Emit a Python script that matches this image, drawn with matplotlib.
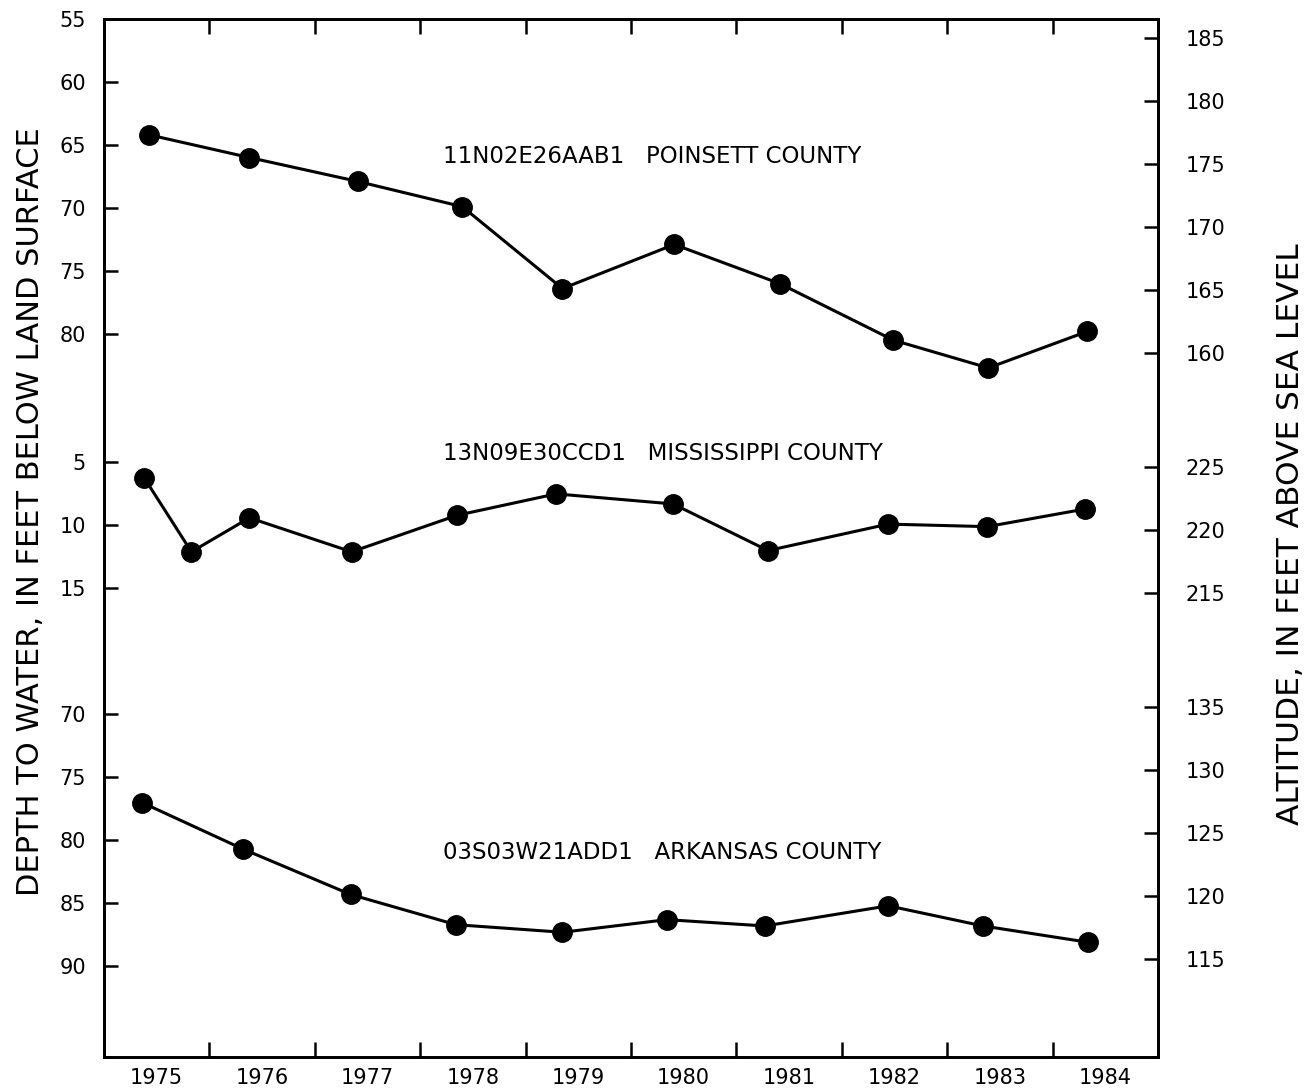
import numpy as np
import matplotlib
matplotlib.use('Agg')
import matplotlib.pyplot as plt
from matplotlib.ticker import FixedLocator, NullFormatter

plt.rcParams['font.family'] = ['DejaVu Sans']

years = [1975, 1976, 1977, 1978, 1979, 1980, 1981, 1982, 1983, 1984]

# 11N02E26AAB1 Poinsett County
poin_t = [1975.43, 1976.38, 1977.41, 1978.40, 1979.35, 1980.41, 1981.41, 1982.49, 1983.39, 1984.33]
poin_d = [64.2, 66.0, 67.9, 69.9, 76.4, 72.9, 76.0, 80.5, 82.7, 79.8]
poin_ticks = [55, 60, 65, 70, 75, 80]
poin_alt = [185, 180, 175, 170, 165, 160]
poin_lsd = 241.5

# 13N09E30CCD1 Mississippi County
miss_t = [1975.38, 1975.83, 1976.38, 1977.35, 1978.35, 1979.29, 1980.40, 1981.30, 1982.44, 1983.38, 1984.31]
miss_d = [6.2, 12.1, 9.4, 12.1, 9.2, 7.5, 8.3, 12.0, 9.9, 10.1, 8.7]
miss_ticks = [5, 10, 15]
miss_alt = [225, 220, 215]
miss_lsd = 230.4

# 03S03W21ADD1 Arkansas County
ark_t = [1975.36, 1976.32, 1977.34, 1978.34, 1979.35, 1980.34, 1981.27, 1982.44, 1983.34, 1984.34]
ark_d = [77.0, 80.7, 84.3, 86.7, 87.3, 86.3, 86.8, 85.2, 86.8, 88.1]
ark_ticks = [70, 75, 80, 85, 90]
ark_alt = [135, 130, 125, 120, 115]
ark_lsd = 204.45

# vertical offsets that stack the three hydrographs in one frame
wells = [
    (poin_t, poin_d, poin_ticks, poin_alt, poin_lsd, -55.0, '11N02E26AAB1   POINSETT COUNTY', 10.9),
    (miss_t, miss_d, miss_ticks, miss_alt, miss_lsd, 30.2, '13N09E30CCD1   MISSISSIPPI COUNTY', 34.5),
    (ark_t, ark_d, ark_ticks, ark_alt, ark_lsd, -14.8, '03S03W21ADD1   ARKANSAS COUNTY', 66.2),
]

fig = plt.figure(figsize=(13.14, 10.91), dpi=100)
ax = fig.add_axes([0.0791, 0.0312, 0.8022, 0.9514])
ax2 = ax.twinx()

lticks, llabels, rticks, rlabels = [], [], [], []
for t, d, tk, alt, lsd, off, name, ty in wells:
    ax.plot(t, np.array(d) + off, color='black', lw=2.2, marker='o', ms=14,
            solid_joinstyle='round')
    lticks += [v + off for v in tk]
    llabels += [str(v) for v in tk]
    rticks += [lsd - a + off for a in alt]
    rlabels += [str(a) for a in alt]
    ax.text(1978.22, ty, name, fontsize=16.5, va='center', ha='left')

ax.set_xlim(1975, 1985)
ax.set_ylim(82.4, 0)
ax2.set_ylim(82.4, 0)

ax.set_yticks(lticks)
ax.set_yticklabels(llabels)
ax2.set_yticks(rticks)
ax2.set_yticklabels(rlabels)

ax.xaxis.set_major_locator(FixedLocator(years[1:]))
ax.xaxis.set_major_formatter(NullFormatter())
ax.xaxis.set_minor_locator(FixedLocator([y + 0.5 for y in years]))
ax.set_xticklabels([str(y) for y in years], minor=True)

ax.tick_params(axis='x', which='major', direction='in', length=11, width=1.8,
               top=True, bottom=True)
ax.tick_params(axis='x', which='minor', length=0, labelsize=15, pad=8)
ax.tick_params(axis='y', direction='in', length=10, width=1.8, labelsize=15, pad=13)
ax2.tick_params(axis='y', direction='in', length=10, width=1.8, labelsize=15, pad=20)

for a in (ax, ax2):
    for s in a.spines.values():
        s.set_linewidth(2.0)

fig.text(0.023, 0.531, 'DEPTH TO WATER, IN FEET BELOW LAND SURFACE',
         rotation=90, fontsize=22, ha='center', va='center')
fig.text(0.982, 0.510, 'ALTITUDE, IN FEET ABOVE SEA LEVEL',
         rotation=90, fontsize=22.5, ha='center', va='center')

fig.savefig('out.png', dpi=100, facecolor='white')
